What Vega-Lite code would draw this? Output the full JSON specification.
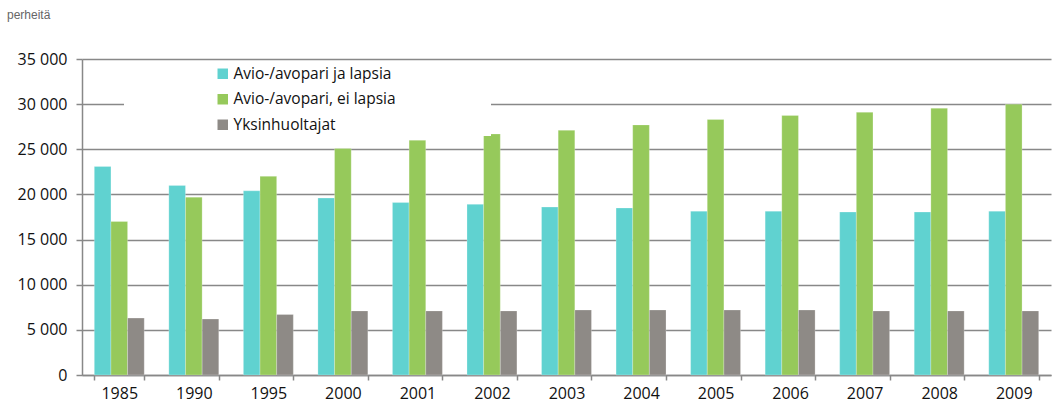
{
  "$schema": "https://vega.github.io/schema/vega-lite/v6.json",
  "autosize": {"type": "none"},
  "width": 969,
  "height": 316,
  "padding": {"left": 82, "top": 59, "right": 4, "bottom": 41},
  "background": "white",
  "title": {
    "text": "perheitä",
    "anchor": "start",
    "frame": "group",
    "dx": -75,
    "offset": 29,
    "fontSize": 12,
    "font": "Liberation Sans",
    "fontWeight": "normal",
    "color": "#666666"
  },
  "data": {
    "values": [
      {"vuosi": "1985", "sarja": "Avio-/avopari ja lapsia", "perheita": 23100},
      {"vuosi": "1985", "sarja": "Avio-/avopari, ei lapsia", "perheita": 17000},
      {"vuosi": "1985", "sarja": "Yksinhuoltajat", "perheita": 6300},
      {"vuosi": "1990", "sarja": "Avio-/avopari ja lapsia", "perheita": 21000},
      {"vuosi": "1990", "sarja": "Avio-/avopari, ei lapsia", "perheita": 19700},
      {"vuosi": "1990", "sarja": "Yksinhuoltajat", "perheita": 6200},
      {"vuosi": "1995", "sarja": "Avio-/avopari ja lapsia", "perheita": 20400},
      {"vuosi": "1995", "sarja": "Avio-/avopari, ei lapsia", "perheita": 22000},
      {"vuosi": "1995", "sarja": "Yksinhuoltajat", "perheita": 6700},
      {"vuosi": "2000", "sarja": "Avio-/avopari ja lapsia", "perheita": 19600},
      {"vuosi": "2000", "sarja": "Avio-/avopari, ei lapsia", "perheita": 25100},
      {"vuosi": "2000", "sarja": "Yksinhuoltajat", "perheita": 7100},
      {"vuosi": "2001", "sarja": "Avio-/avopari ja lapsia", "perheita": 19100},
      {"vuosi": "2001", "sarja": "Avio-/avopari, ei lapsia", "perheita": 26000},
      {"vuosi": "2001", "sarja": "Yksinhuoltajat", "perheita": 7100},
      {"vuosi": "2002", "sarja": "Avio-/avopari ja lapsia", "perheita": 18900},
      {"vuosi": "2002", "sarja": "Avio-/avopari, ei lapsia", "perheita": 26700},
      {"vuosi": "2002", "sarja": "Yksinhuoltajat", "perheita": 7100},
      {"vuosi": "2003", "sarja": "Avio-/avopari ja lapsia", "perheita": 18600},
      {"vuosi": "2003", "sarja": "Avio-/avopari, ei lapsia", "perheita": 27100},
      {"vuosi": "2003", "sarja": "Yksinhuoltajat", "perheita": 7200},
      {"vuosi": "2004", "sarja": "Avio-/avopari ja lapsia", "perheita": 18500},
      {"vuosi": "2004", "sarja": "Avio-/avopari, ei lapsia", "perheita": 27700},
      {"vuosi": "2004", "sarja": "Yksinhuoltajat", "perheita": 7200},
      {"vuosi": "2005", "sarja": "Avio-/avopari ja lapsia", "perheita": 18150},
      {"vuosi": "2005", "sarja": "Avio-/avopari, ei lapsia", "perheita": 28300},
      {"vuosi": "2005", "sarja": "Yksinhuoltajat", "perheita": 7200},
      {"vuosi": "2006", "sarja": "Avio-/avopari ja lapsia", "perheita": 18150},
      {"vuosi": "2006", "sarja": "Avio-/avopari, ei lapsia", "perheita": 28750},
      {"vuosi": "2006", "sarja": "Yksinhuoltajat", "perheita": 7200},
      {"vuosi": "2007", "sarja": "Avio-/avopari ja lapsia", "perheita": 18050},
      {"vuosi": "2007", "sarja": "Avio-/avopari, ei lapsia", "perheita": 29100},
      {"vuosi": "2007", "sarja": "Yksinhuoltajat", "perheita": 7100},
      {"vuosi": "2008", "sarja": "Avio-/avopari ja lapsia", "perheita": 18050},
      {"vuosi": "2008", "sarja": "Avio-/avopari, ei lapsia", "perheita": 29550},
      {"vuosi": "2008", "sarja": "Yksinhuoltajat", "perheita": 7100},
      {"vuosi": "2009", "sarja": "Avio-/avopari ja lapsia", "perheita": 18150},
      {"vuosi": "2009", "sarja": "Avio-/avopari, ei lapsia", "perheita": 30000},
      {"vuosi": "2009", "sarja": "Yksinhuoltajat", "perheita": 7100}
    ]
  },
  "mark": {"type": "bar", "stroke": "#ffffff", "strokeWidth": 0.4, "strokeOpacity": 0.6},
  "encoding": {
    "x": {
      "field": "vuosi",
      "type": "ordinal",
      "sort": null,
      "scale": {"paddingInner": 0.33, "paddingOuter": 0.165},
      "axis": {
        "title": null,
        "labelAngle": 0,
        "tickBand": "extent",
        "tickSize": 5,
        "tickColor": "#888888",
        "tickWidth": 1.5,
        "domainColor": "#888888",
        "domainWidth": 1.5,
        "labelFontSize": 16,
        "labelColor": "#111111",
        "labelPadding": 5,
        "grid": false
      }
    },
    "xOffset": {
      "field": "sarja",
      "type": "nominal",
      "sort": ["Avio-/avopari ja lapsia", "Avio-/avopari, ei lapsia", "Yksinhuoltajat"],
      "scale": {"paddingInner": 0, "paddingOuter": 0}
    },
    "y": {
      "field": "perheita",
      "type": "quantitative",
      "scale": {"domain": [0, 35000], "nice": false},
      "axis": {
        "title": null,
        "values": [0, 5000, 10000, 15000, 20000, 25000, 30000, 35000],
        "labelExpr": "replace(format(datum.value, ','), ',', ' ')",
        "tickSize": 6,
        "tickColor": "#888888",
        "tickWidth": 1.5,
        "domainColor": "#888888",
        "domainWidth": 1.5,
        "gridColor": "#888888",
        "gridWidth": 1.5,
        "labelFontSize": 16,
        "labelColor": "#111111",
        "labelPadding": 9
      }
    },
    "color": {
      "field": "sarja",
      "type": "nominal",
      "sort": ["Avio-/avopari ja lapsia", "Avio-/avopari, ei lapsia", "Yksinhuoltajat"],
      "scale": {
        "domain": ["Avio-/avopari ja lapsia", "Avio-/avopari, ei lapsia", "Yksinhuoltajat"],
        "range": ["#60d2d0", "#96c95b", "#8e8a86"]
      },
      "legend": {
        "title": null,
        "orient": "none",
        "legendX": 42,
        "legendY": 5,
        "fillColor": "white",
        "padding": 2,
        "symbolOffset": 89,
        "symbolType": "square",
        "symbolSize": 110,
        "symbolStrokeWidth": 0,
        "labelFontSize": 15.5,
        "labelLimit": 400,
        "labelColor": "#111111",
        "labelOffset": 3,
        "rowPadding": 8.5,
        "labelExpr": "datum.label + '\u2003\u2003\u2003\u2003\u2003\u2003\u200b'"
      }
    }
  },
  "config": {
    "font": "Open Sans",
    "view": {"stroke": null}
  }
}
